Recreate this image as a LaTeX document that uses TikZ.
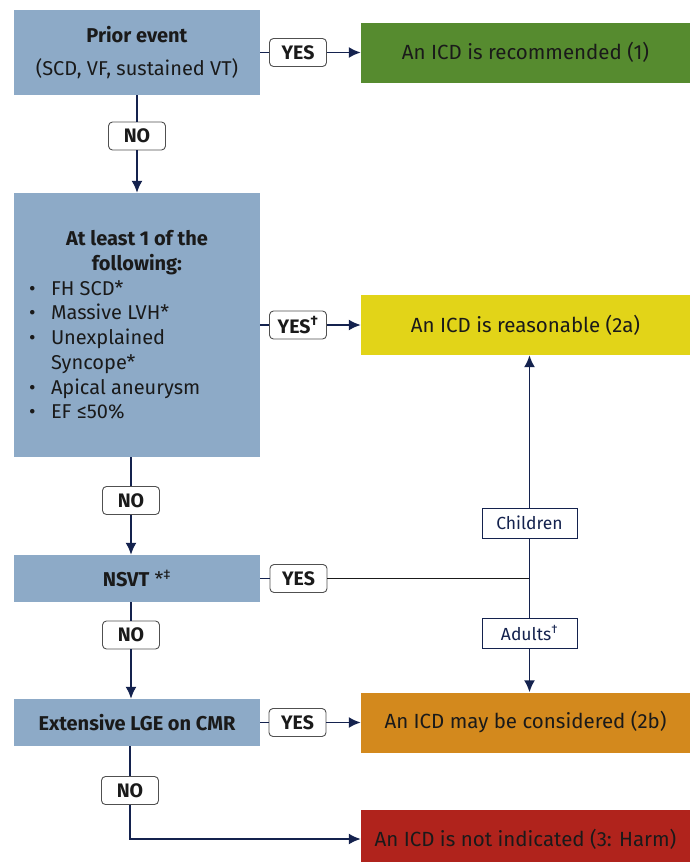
\documentclass[tikz,border=0pt]{standalone}
\usepackage{fontspec}
\setmainfont{Fira Sans}
\usetikzlibrary{arrows.meta}
\definecolor{critblue}{HTML}{8DAAC7}
\definecolor{recgreen}{HTML}{568B2F}
\definecolor{reasyellow}{HTML}{E2D418}
\definecolor{consorange}{HTML}{D3891D}
\definecolor{harmred}{HTML}{B0231C}
\definecolor{navy}{HTML}{14224E}
\definecolor{txt}{HTML}{1A1A1A}
\definecolor{lblgray}{HTML}{505050}
\newcommand{\bul}{\makebox[23pt][l]{\hspace{1pt}\textbullet}}
\begin{document}
\begin{tikzpicture}[x=1pt,y=-1pt,
 crit/.style={fill=critblue, text=txt, minimum width=246pt, inner sep=0pt, align=center,
   font=\fontsize{20}{24.7}\selectfont},
 outcome/.style={text=txt, minimum width=329pt, minimum height=60pt, inner sep=0pt,
   font=\fontsize{20.5}{24}\selectfont},
 yesno/.style={draw=lblgray, fill=white, rounded corners=4pt, line width=.9pt, text=txt,
   minimum width=57pt, minimum height=28pt, inner sep=0pt, font=\bfseries\fontsize{19.5}{20}\selectfont},
 agebox/.style={draw=navy, fill=white, line width=.8pt, text=navy,
   minimum width=95pt, minimum height=30pt, inner sep=0pt, font=\fontsize{17.5}{20}\selectfont},
 link/.style={navy, line width=1.8pt},
 arr/.style={link, -{Latex[length=12pt,width=11pt]}}]
 \useasboundingbox (0,0) rectangle (690,862);
 \clip (0,0) rectangle (690,862);
 %
 \node[crit, minimum height=85pt] (prior) at (137,52.5) {\textbf{Prior event}\\[9pt](SCD, VF, sustained VT)};
 \node[crit, minimum height=264pt] (least) at (137,325) {\parbox{218pt}{\centering\textbf{At least 1 of the\\ following:}\par
   \raggedright
   \bul FH SCD*\\
   \bul Massive LVH*\\
   \bul Unexplained\\
   \hspace*{23pt}Syncope*\\
   \bul Apical aneurysm\\
   \bul EF ≤50\%}};
 \node[crit, minimum height=47pt] (nsvt) at (137,578.5) {\textbf{NSVT} *\textsuperscript{‡}};
 \node[crit, minimum height=47pt] (lge) at (137,722.5) {\textbf{Extensive LGE on CMR}};
 %
 \node[outcome, fill=recgreen] (rec) at (525.5,52.5) {An ICD is recommended (1)};
 \node[outcome, fill=reasyellow] (reas) at (525.5,325) {An ICD is reasonable (2a)};
 \node[outcome, fill=consorange] (cons) at (525.5,722.5) {An ICD may be considered (2b)};
 \node[outcome, fill=harmred, minimum height=58pt] (notind) at (525.5,839) {An ICD is not indicated (3: Harm)};
 %
 \node[yesno] (yes1) at (298,52.5) {YES};
 \node[yesno] (yes2) at (298,325) {YES\textsuperscript{†}};
 \node[yesno] (yes3) at (298.5,578.5) {YES};
 \node[yesno] (yes4) at (297.5,722.5) {YES};
 \node[yesno] (no1) at (137,136) {NO};
 \node[yesno] (no2) at (131,500.5) {NO};
 \node[yesno] (no3) at (131,635) {NO};
 \node[yesno] (no4) at (130,790.5) {NO};
 %
 \node[agebox] (kids) at (529.5,523) {Children};
 \node[agebox] (adults) at (529.5,633) {Adults\textsuperscript{†}};
 \coordinate (split) at (529.5,578.5);
 %
 \draw[link] (prior) -- (yes1);
 \draw[arr] (yes1) -- (rec);
 \draw[link] (least) -- (yes2);
 \draw[arr] (yes2) -- (reas);
 \draw[link] (nsvt) -- (yes3);
 \draw[link, txt] (yes3) -- (split);
 \draw[link] (lge) -- (yes4);
 \draw[arr] (yes4) -- (cons);
 %
 \draw[link] (prior) -- (no1);
 \draw[arr] (no1) -- (least);
 \draw[link] (no2 |- least.south) -- (no2);
 \draw[arr] (no2) -- (no2 |- nsvt.north);
 \draw[link] (no3 |- nsvt.south) -- (no3);
 \draw[arr] (no3) -- (no3 |- lge.north);
 \draw[link] (no4 |- lge.south) -- (no4);
 \draw[arr] (no4) |- (notind.west);
 %
 \draw[link] (split) -- (kids);
 \draw[arr] (kids) -- (kids |- reas.south);
 \draw[link] (split) -- (adults);
 \draw[arr] (adults) -- (adults |- cons.north);
\end{tikzpicture}
\end{document}
